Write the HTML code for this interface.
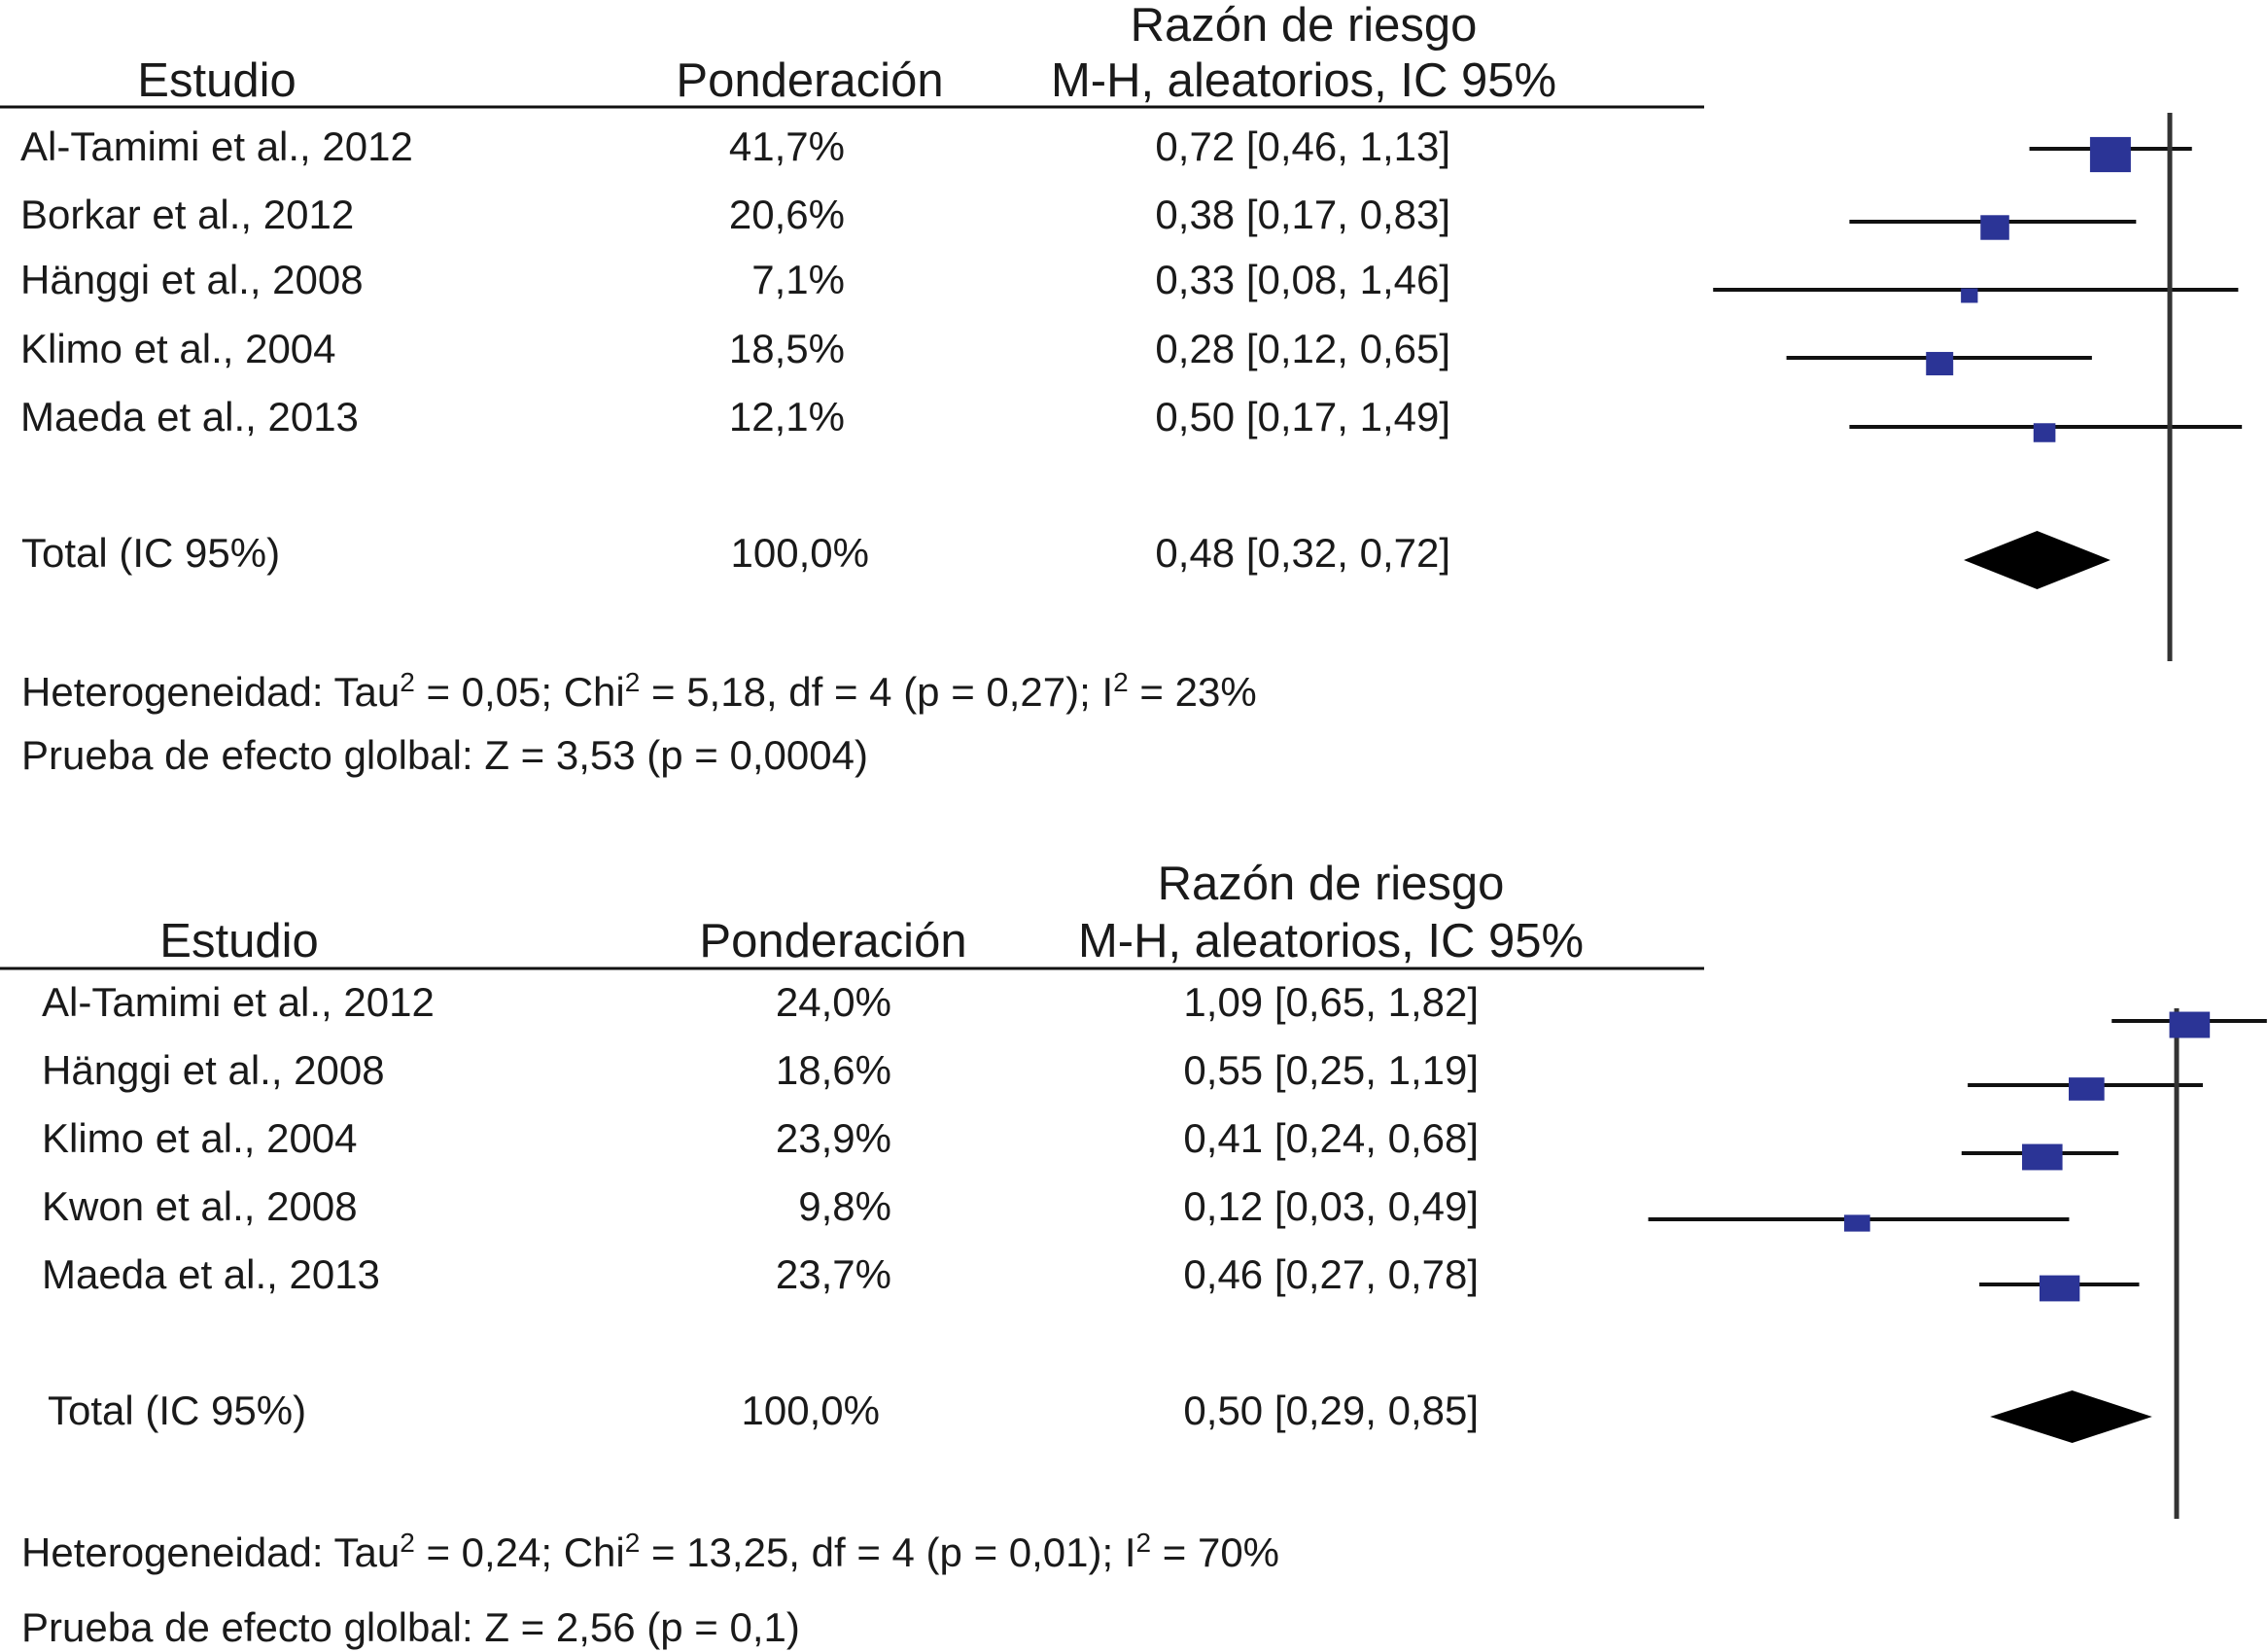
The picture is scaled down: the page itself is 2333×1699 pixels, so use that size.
<!DOCTYPE html>
<html><head><meta charset="utf-8"><style>
html,body{margin:0;padding:0;background:#fff;}
svg{display:block;font-family:"Liberation Sans",Arial,sans-serif;}
text{font-size:42px;fill:#1a1a1a;}
text.h{font-size:49px;}
</style></head><body>
<svg id="chart" width="2333" height="1699" viewBox="0 0 2333 1699" xmlns="http://www.w3.org/2000/svg">
<g id="top">
<text class="h" x="1341" y="42" text-anchor="middle">Razón de riesgo</text>
<text class="h" x="223" y="99" text-anchor="middle">Estudio</text>
<text class="h" x="833" y="99" text-anchor="middle">Ponderación</text>
<text class="h" x="1341" y="99" text-anchor="middle">M-H, aleatorios, IC 95%</text>
<line x1="0" y1="110" x2="1753" y2="110" stroke="#111" stroke-width="3"/>
<text x="22" y="726">Heterogeneidad: Tau<tspan dy="-15" font-size="28">2</tspan><tspan dy="15"> = 0,05; Chi</tspan><tspan dy="-15" font-size="28">2</tspan><tspan dy="15"> = 5,18, df = 4 (p = 0,27); I</tspan><tspan dy="-15" font-size="28">2</tspan><tspan dy="15"> = 23%</tspan></text>
<text x="22" y="791">Prueba de efecto glolbal: Z = 3,53 (p = 0,0004)</text>
</g>
<g id="bot">
<text class="h" x="1369" y="925" text-anchor="middle">Razón de riesgo</text>
<text class="h" x="246" y="984" text-anchor="middle">Estudio</text>
<text class="h" x="857" y="984" text-anchor="middle">Ponderación</text>
<text class="h" x="1369" y="984" text-anchor="middle">M-H, aleatorios, IC 95%</text>
<line x1="0" y1="996" x2="1753" y2="996" stroke="#111" stroke-width="3"/>
<text x="22" y="1611">Heterogeneidad: Tau<tspan dy="-15" font-size="28">2</tspan><tspan dy="15"> = 0,24; Chi</tspan><tspan dy="-15" font-size="28">2</tspan><tspan dy="15"> = 13,25, df = 4 (p = 0,01); I</tspan><tspan dy="-15" font-size="28">2</tspan><tspan dy="15"> = 70%</tspan></text>
<text x="22" y="1688">Prueba de efecto glolbal: Z = 2,56 (p = 0,1)</text>
</g>
</svg>
<script>
// Top plot data
const topStudies = ["Al-Tamimi et al., 2012","Borkar et al., 2012","Hänggi et al., 2008","Klimo et al., 2004","Maeda et al., 2013"];
const topWeights = [41.7, 20.6, 7.1, 18.5, 12.1];
const topRR = [0.72, 0.38, 0.33, 0.28, 0.50];
const topLow = [0.46, 0.17, 0.08, 0.12, 0.17];
const topHigh = [1.13, 0.83, 1.46, 0.65, 1.49];
const topTotal = [0.48, 0.32, 0.72];
// Bottom plot data
const botStudies = ["Al-Tamimi et al., 2012","Hänggi et al., 2008","Klimo et al., 2004","Kwon et al., 2008","Maeda et al., 2013"];
const botWeights = [24.0, 18.6, 23.9, 9.8, 23.7];
const botRR = [1.09, 0.55, 0.41, 0.12, 0.46];
const botLow = [0.65, 0.25, 0.24, 0.03, 0.27];
const botHigh = [1.82, 1.19, 0.68, 0.49, 0.78];
const botTotal = [0.50, 0.29, 0.85];

const NS="http://www.w3.org/2000/svg";
function fmt(v){return v.toFixed(2).replace('.',',');}
function fmtW(v){return v.toFixed(1).replace('.',',')+'%';}
function mk(g,tag,attrs,txt){const e=document.createElementNS(NS,tag);for(const k in attrs)e.setAttribute(k,attrs[k]);if(txt!==undefined)e.textContent=txt;g.appendChild(e);return e;}

function draw(gid,cfg,studies,weights,rr,lo,hi,total){
  const g=document.getElementById(gid);
  const X=v=>cfg.x0+cfg.k*Math.log(v);
  studies.forEach((s,i)=>{
    const ty=cfg.textY[i], my=cfg.markY[i];
    const t1=mk(g,'text',{x:cfg.nameX,y:ty},s);
    
    
    const t2=mk(g,'text',{x:cfg.wX,y:ty,'text-anchor':'end'},fmtW(weights[i]));
    
    
    const t3=mk(g,'text',{x:cfg.ciX,y:ty,'text-anchor':'end'},fmt(rr[i])+' ['+fmt(lo[i])+', '+fmt(hi[i])+']');
    
    
    const ln=mk(g,'line',{x1:X(lo[i]),x2:X(hi[i]),y1:my,y2:my,stroke:'#111','stroke-width':4});
    
    
  });
  const nl=mk(g,'line',{x1:X(1),x2:X(1),y1:cfg.nullTop,y2:cfg.nullBot,stroke:'#333','stroke-width':5});
  
  
  studies.forEach((s,i)=>{
    const my=cfg.markY[i];
    const w=cfg.bw*Math.sqrt(weights[i]), h=cfg.bh*Math.sqrt(weights[i]);
    const b=mk(g,'rect',{x:X(rr[i])-w/2,y:my-h/2+cfg.boff,width:w,height:h,fill:'#2b3496'});
    
    
  });
  const tt=mk(g,'text',{x:cfg.totX,y:cfg.totY},'Total (IC 95%)');
  
  
  const tw=mk(g,'text',{x:cfg.totWX,y:cfg.totY,'text-anchor':'end'},'100,0%');
  
  
  const tc=mk(g,'text',{x:cfg.ciX,y:cfg.totY,'text-anchor':'end'},fmt(total[0])+' ['+fmt(total[1])+', '+fmt(total[2])+']');
  
  
  const dy=cfg.diaY, dh=cfg.diaH;
  const d=mk(g,'polygon',{points:`${X(total[1])},${dy} ${X(total[0])},${dy-dh} ${X(total[2])},${dy} ${X(total[0])},${dy+dh}`,fill:'#000'});
  
  
}
draw('top',{x0:2232,k:186,nullTop:116,nullBot:680,textY:[165,235,302,373,443],markY:[153,228,298,368,439],
  nameX:21,wX:869,ciX:1492,bw:6.5,bh:5.6,boff:6,totX:22,totY:583,totWX:894,diaY:576,diaH:30},
  topStudies,topWeights,topRR,topLow,topHigh,topTotal);
draw('bot',{x0:2239,k:155,nullTop:1037,nullBot:1562,textY:[1045,1115,1185,1255,1325],markY:[1050,1116,1186,1254,1321],
  nameX:43,wX:917,ciX:1521,bw:8.5,bh:5.5,boff:4,totX:49,totY:1465,totWX:905,diaY:1457,diaH:27},
  botStudies,botWeights,botRR,botLow,botHigh,botTotal);
</script>
</body></html>
